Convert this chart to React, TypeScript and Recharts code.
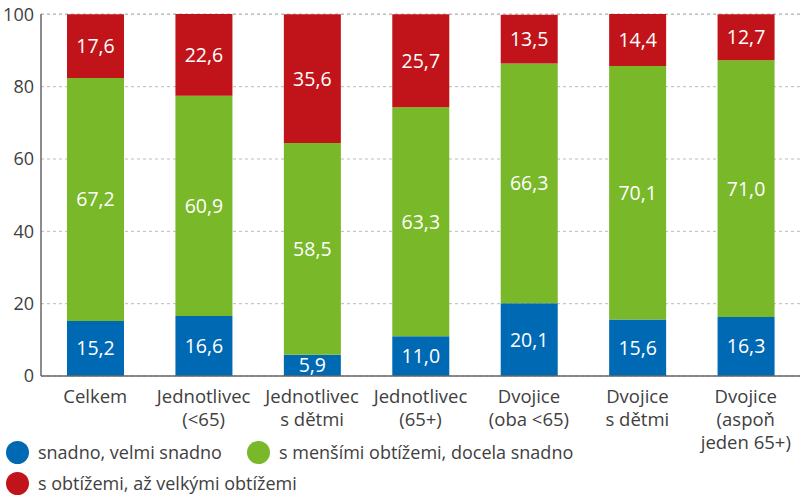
import { Bar, BarChart, CartesianGrid, LabelList, XAxis, YAxis } from "recharts";

const categories = [
  "Celkem",
  "Jednotlivec\n(<65)",
  "Jednotlivec\ns dětmi",
  "Jednotlivec\n(65+)",
  "Dvojice\n(oba <65)",
  "Dvojice\ns dětmi",
  "Dvojice\n(aspoň\njeden 65+)",
];
const easy = [15.2, 16.6, 5.9, 11.0, 20.1, 15.6, 16.3];
const minor = [67.2, 60.9, 58.5, 63.3, 66.3, 70.1, 71.0];
const hard = [17.6, 22.6, 35.6, 25.7, 13.5, 14.4, 12.7];
const yTicks = [0, 20, 40, 60, 80, 100];

const seriesNames = ["snadno, velmi snadno", "s menšími obtížemi, docela snadno", "s obtížemi, až velkými obtížemi"];
const colors = ["#0069b4", "#78b829", "#c0141a"];

const data = categories.map((name, i) => ({ name, easy: easy[i], minor: minor[i], hard: hard[i] }));

const FONT = "'Open Sans', sans-serif";
const TEXT = "#404040";

const fmt = (v: any) => Number(v).toFixed(1).replace(".", ",");

function CatTick({ x, y, payload }: any) {
  const lines = String(payload.value).split("\n");
  return (
    <g transform={`translate(${x},${y})`}>
      {lines.map((l, i) => (
        <text key={i} x={0} y={19 + i * 23} textAnchor="middle" fill={TEXT} fontSize={18.5} fontFamily={FONT}>
          {l}
        </text>
      ))}
    </g>
  );
}

function LegendDot({ color, label, left, top }: { color: string; label: string; left: number; top: number }) {
  return (
    <div style={{ position: "absolute", left, top, display: "flex", alignItems: "center", height: 24 }}>
      <span style={{ width: 23, height: 23, borderRadius: "50%", background: color, display: "inline-block" }} />
      <span style={{ marginLeft: 9, fontSize: 18, color: TEXT, fontFamily: FONT, whiteSpace: "nowrap" }}>{label}</span>
    </div>
  );
}

export default function App() {
  const keys = ["easy", "minor", "hard"];
  return (
    <div style={{ position: "fixed", left: 0, top: 0, width: 800, height: 496, background: "#fff" }}>
      <BarChart width={800} height={496} data={data} margin={{ top: 14, right: 0, left: 0, bottom: 56 }} barSize={57}>
        <CartesianGrid vertical={false} stroke="#bbb" strokeDasharray="3 3" />
        <XAxis
          dataKey="name"
          interval={0}
          tickLine={false}
          axisLine={{ stroke: "#666", strokeWidth: 1.5 }}
          tick={<CatTick />}
          height={64}
        />
        <YAxis
          domain={[0, 100]}
          ticks={yTicks}
          width={41}
          tickLine={false}
          axisLine={{ stroke: "#666", strokeWidth: 1.5 }}
          tick={{ fill: TEXT, fontSize: 18, fontFamily: FONT }}
          tickMargin={1}
        />
        {keys.map((k, i) => (
          <Bar key={k} dataKey={k} stackId="a" fill={colors[i]} isAnimationActive={false}>
            <LabelList
              dataKey={k}
              position="center"
              formatter={fmt}
              fill="#fff"
              fontSize={19.5}
              fontFamily={FONT}
            />
          </Bar>
        ))}
      </BarChart>
      <LegendDot color={colors[0]} label={seriesNames[0]} left={6} top={440} />
      <LegendDot color={colors[1]} label={seriesNames[1]} left={247} top={440} />
      <LegendDot color={colors[2]} label={seriesNames[2]} left={6} top={471} />
    </div>
  );
}
